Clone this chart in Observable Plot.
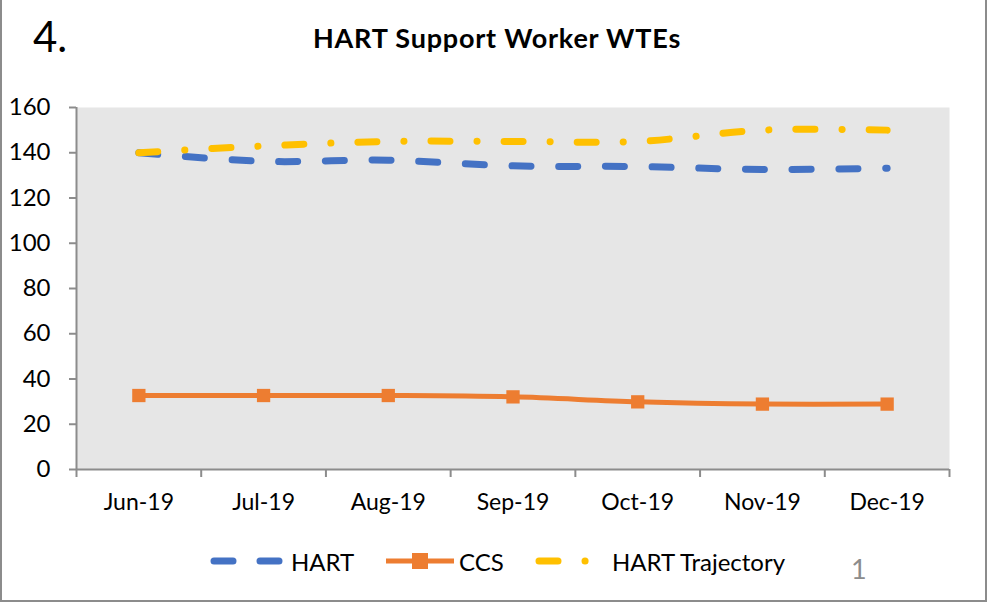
<!DOCTYPE html>
<html>
<head>
<meta charset="utf-8">
<script src="https://cdn.jsdelivr.net/npm/d3@7"></script>
<script src="https://cdn.jsdelivr.net/npm/@observablehq/plot@0.6"></script>
<style>
  html, body { margin: 0; padding: 0; background: #fff; }
  #wrap { position: relative; width: 988px; height: 604px; font-family: Lato, "Open Sans", sans-serif; overflow: hidden; }
  #box { position: absolute; left: 0; top: -2px; width: 987px; height: 604px; border: 2px solid #8c8c8c; border-top: none; box-sizing: border-box; }
  #num { position: absolute; left: 33px; top: 11px; font-size: 42px; color: #000; }
  #title { position: absolute; left: 0; width: 994px; top: 21px; text-align: center; font-size: 27px; letter-spacing: 0.8px; font-weight: bold; color: #000; }
  #chart { position: absolute; left: 0; top: 90px; }
  #legend { position: absolute; left: 0; top: 545px; height: 32px; width: 988px; }
  .li { position: absolute; top: 0; height: 32px; display: flex; align-items: center; font-size: 24px; color: #000; }
  #pg { position: absolute; left: 851px; top: 552px; font-size: 27px; color: #8c8c8c; }
</style>
</head>
<body>
<div id="wrap">
  <div id="box"></div>
  <div id="num">4.</div>
  <div id="title">HART Support Worker WTEs</div>
  <div id="chart"></div>
  <div id="legend"></div>
  <div id="pg">1</div>
</div>
<script>
const months = ["Jun-19", "Jul-19", "Aug-19", "Sep-19", "Oct-19", "Nov-19", "Dec-19"];
const hart = [140, 136.2, 136.7, 134.2, 133.9, 132.6, 133.2];
const ccs = [32.7, 32.7, 32.7, 32.1, 29.9, 28.9, 28.9];
const trajectory = [140, 143, 145, 145, 145, 150, 150];
const yTicks = [0, 20, 40, 60, 80, 100, 120, 140, 160];

const seriesNames = ["HART", "CCS", "HART Trajectory"];
const colors = { "HART": "#4472C4", "CCS": "#ED7D31", "HART Trajectory": "#FFC000" };

const rows = (vals, name) => vals.map((v, i) => ({ i, month: months[i], value: v, series: name }));
const hartRows = rows(hart, "HART");
const ccsRows = rows(ccs, "CCS");
const trajRows = rows(trajectory, "HART Trajectory");
const idx = months.map((_, i) => i);
const bounds = d3.range(-0.5, months.length, 1);

const axisGray = "#8c8c8c";

const chart = Plot.plot({
  width: 988,
  height: 440,
  marginTop: 17,
  marginBottom: 61,
  marginLeft: 76,
  marginRight: 39,
  style: { fontFamily: "Lato, 'Open Sans', sans-serif", fontSize: "23px", color: "#000", background: "transparent" },
  x: { type: "linear", domain: [-0.5, months.length - 0.5] },
  y: { domain: [0, 160] },
  marks: [
    Plot.frame({ fill: "#E6E6E6", stroke: null }),
    Plot.axisY({ ticks: yTicks, tickSize: 7, tickPadding: 19, stroke: axisGray, strokeWidth: 2, label: null, fontSize: 24, fill: "#000" }),
    Plot.axisX({ ticks: bounds, tickSize: 8, tickFormat: () => "", stroke: axisGray, strokeWidth: 2, label: null }),
    Plot.axisX({ ticks: idx, tickSize: 0, tickPadding: 24, tickFormat: i => months[i], label: null, fontSize: 23, fill: "#000" }),
    Plot.ruleX([-0.5], { stroke: axisGray, strokeWidth: 2 }),
    Plot.ruleY([0], { stroke: axisGray, strokeWidth: 2 }),
    Plot.line(ccsRows, { x: "i", y: "value", stroke: colors["CCS"], strokeWidth: 5, curve: "catmull-rom" }),
    Plot.dot(ccsRows, { x: "i", y: "value", symbol: "square", r: 7.5, fill: colors["CCS"], stroke: null }),
    Plot.line(hartRows, { x: "i", y: "value", stroke: colors["HART"], strokeWidth: 7, strokeLinecap: "round", strokeDasharray: "19,27.7", curve: "catmull-rom" }),
    Plot.line(trajRows, { x: "i", y: "value", stroke: colors["HART Trajectory"], strokeWidth: 7, strokeLinecap: "round", strokeDasharray: "19,27,0.1,27", curve: "catmull-rom" })
  ]
});
document.getElementById("chart").appendChild(chart);

// Legend
const legend = document.getElementById("legend");
const items = [
  { name: "HART", left: 210, w: 80, dash: "19,27", cap: "round", sw: 7 },
  { name: "CCS", left: 382, w: 76, dash: null, cap: "butt", sw: 5, square: true },
  { name: "HART Trajectory", left: 535, w: 76, dash: "19,27,0.1,27", cap: "round", sw: 7 }
];
items.forEach(it => {
  const d = document.createElement("div");
  d.className = "li";
  d.style.left = it.left + "px";
  const ns = "http://www.w3.org/2000/svg";
  const s = document.createElementNS(ns, "svg");
  s.setAttribute("width", it.w); s.setAttribute("height", 32);
  const l = document.createElementNS(ns, "line");
  l.setAttribute("x1", 4); l.setAttribute("x2", it.w - 4);
  l.setAttribute("y1", 16); l.setAttribute("y2", 16);
  l.setAttribute("stroke", colors[it.name]);
  l.setAttribute("stroke-width", it.sw);
  l.setAttribute("stroke-linecap", it.cap);
  if (it.dash) l.setAttribute("stroke-dasharray", it.dash);
  s.appendChild(l);
  if (it.square) {
    const r = document.createElementNS(ns, "rect");
    r.setAttribute("x", it.w / 2 - 8); r.setAttribute("y", 8);
    r.setAttribute("width", 16); r.setAttribute("height", 16);
    r.setAttribute("fill", colors[it.name]);
    s.appendChild(r);
  }
  d.appendChild(s);
  const t = document.createElement("span");
  t.textContent = it.name;
  t.style.marginLeft = "1px";
  d.appendChild(t);
  legend.appendChild(d);
});
</script>
</body>
</html>
